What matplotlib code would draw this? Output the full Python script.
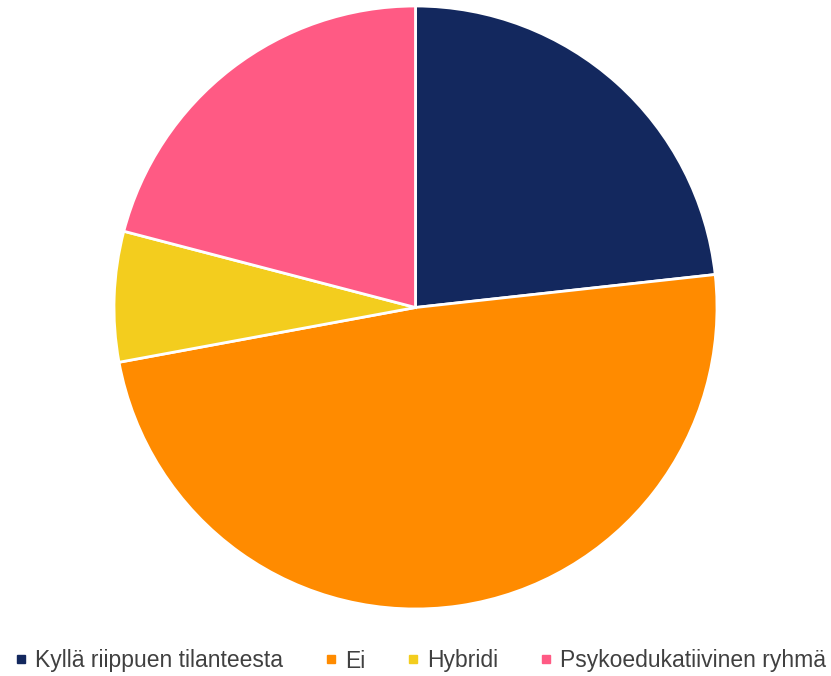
import matplotlib
matplotlib.use("Agg")
import matplotlib.pyplot as plt
from matplotlib.lines import Line2D

labels = ["Kyllä riippuen tilanteesta", "Ei", "Hybridi", "Psykoedukatiivinen ryhmä"]
values = [10, 21, 3, 9]
colors = ["#13285E", "#FF8B00", "#F3CD1E", "#FF5A84"]

plt.rcParams["font.family"] = ["Liberation Sans", "DejaVu Sans"]

fig = plt.figure(figsize=(8.31, 6.76), dpi=100)
ax = fig.add_axes([114 / 831, 67 / 676, 603 / 831, 603 / 676])
ax.pie(values, colors=colors, startangle=90, counterclock=False,
       wedgeprops=dict(edgecolor="white", linewidth=2))
ax.set_xlim(-1.0, 1.0)
ax.set_ylim(-1.0, 1.0)
ax.set_aspect("equal")

handles = [Line2D([0], [0], marker="s", linestyle="none", markersize=6,
                  markerfacecolor=c, markeredgecolor=c) for c in colors]
fig.legend(handles, labels, loc="center", bbox_to_anchor=(421 / 831, 1 - 661 / 676),
           ncol=4, frameon=False, fontsize=16.5, handlelength=0.5,
           handletextpad=0.35, columnspacing=1.85, labelcolor="#404040")

fig.savefig("out.png", dpi=100)
